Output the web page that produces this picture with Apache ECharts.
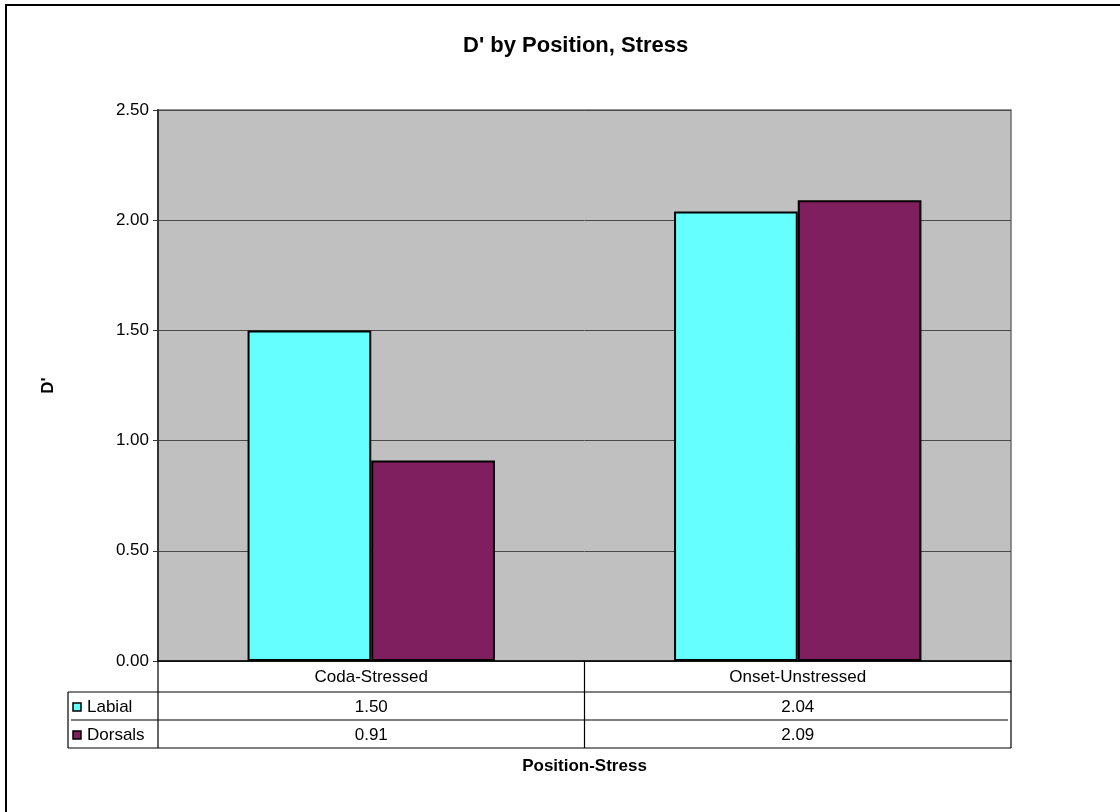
<!DOCTYPE html>
<html>
<head>
<meta charset="utf-8">
<script src="https://cdn.jsdelivr.net/npm/echarts@6/dist/echarts.min.js"></script>
<style>
html,body{margin:0;padding:0;background:#fff;}
#c{width:1120px;height:812px;}
</style>
</head>
<body>
<div id="c"></div>
<script>
var categories = ['Coda-Stressed', 'Onset-Unstressed'];
var seriesNames = ['Labial', 'Dorsals'];
var labial = [1.50, 2.04];
var dorsals = [0.91, 2.09];
var yMin = 0, yMax = 2.5, yStep = 0.5;

var colors = ['#66FFFF', '#7F1F5F'];
var FONT = 'Liberation Sans, Arial, sans-serif';
var G = {left: 158, top: 110, width: 853, height: 551};
var rowTop = [692, 720, 748];

var chart = echarts.init(document.getElementById('c'), null, {renderer: 'canvas'});

var option = {
  backgroundColor: '#fff',
  animation: false,
  title: {
    text: "D' by Position, Stress",
    left: 458,
    top: 30,
    textStyle: {fontFamily: FONT, fontSize: 22, fontWeight: 'bold', color: '#000'}
  },
  grid: {
    left: G.left, top: G.top, width: G.width, height: G.height,
    show: true, backgroundColor: '#C0C0C0', borderColor: '#707070', borderWidth: 1.5
  },
  xAxis: {
    type: 'category',
    data: categories,
    axisLine: {show: true, lineStyle: {color: '#000', width: 1.5}},
    axisTick: {show: false},
    axisLabel: {fontFamily: FONT, fontSize: 17, color: '#000', margin: 8},
    name: 'Position-Stress',
    nameLocation: 'middle',
    nameGap: 97,
    nameTextStyle: {fontFamily: FONT, fontSize: 17, fontWeight: 'bold', color: '#000'}
  },
  yAxis: {
    type: 'value',
    min: yMin, max: yMax, interval: yStep,
    axisLine: {show: true, lineStyle: {color: '#333', width: 2}},
    axisTick: {show: true, length: 5, lineStyle: {color: '#333', width: 1}},
    axisLabel: {fontFamily: FONT, fontSize: 17, color: '#000', margin: 9,
      formatter: function (v) { return v.toFixed(2); }},
    splitLine: {show: true, lineStyle: {color: '#4a4a4a', width: 1}},
    name: "D'",
    nameLocation: 'middle',
    nameGap: 101,
    nameRotate: 90,
    nameTextStyle: {fontFamily: FONT, fontSize: 17, fontWeight: 'bold', color: '#000'}
  },
  series: [
    {name: seriesNames[0], type: 'bar', data: labial, barWidth: '29%', barGap: '0%',
     itemStyle: {color: colors[0], borderColor: '#000', borderWidth: 2}},
    {name: seriesNames[1], type: 'bar', data: dorsals, barWidth: '29%', barGap: '0%',
     itemStyle: {color: colors[1], borderColor: '#000', borderWidth: 2}}
  ]
};
chart.setOption(option);

// Data table built from the arrays, placed using the chart's own scale
function buildTable() {
  var els = [];
  var x0 = chart.convertToPixel({gridIndex: 0}, [0, 0]);
  var zeroY = x0[1];
  var xl = G.left, xr = G.left + G.width;
  var bandW = G.width / categories.length;
  var lineStyle = {stroke: '#000', lineWidth: 1.2};
  for (var i = 0; i <= categories.length; i++) {
    var x = xl + bandW * i;
    els.push({type: 'line', shape: {x1: x, y1: zeroY, x2: x, y2: rowTop[2]}, style: lineStyle, z: 10});
  }
  els.push({type: 'line', shape: {x1: 68, y1: rowTop[0], x2: 68, y2: rowTop[2]}, style: lineStyle, z: 10});
  for (var r = 0; r < rowTop.length; r++) {
    var inset = (r === 1) ? 3 : 0;
    els.push({type: 'line', shape: {x1: 68 + inset, y1: rowTop[r], x2: xr - inset, y2: rowTop[r]}, style: lineStyle, z: 10});
  }
  var rows = [labial, dorsals];
  for (var s = 0; s < rows.length; s++) {
    var cy = (rowTop[s] + rowTop[s + 1]) / 2 + 1;
    els.push({type: 'rect', shape: {x: 73, y: cy - 4, width: 8, height: 8},
      style: {fill: colors[s], stroke: '#000', lineWidth: 1.5}, z: 10});
    els.push({type: 'text', x: 87, y: cy, style: {text: seriesNames[s], font: '17px ' + FONT,
      fill: '#000', textAlign: 'left', textVerticalAlign: 'middle'}, z: 10});
    for (var c = 0; c < categories.length; c++) {
      var px = chart.convertToPixel({xAxisIndex: 0}, categories[c]);
      els.push({type: 'text', x: px, y: cy, style: {text: rows[s][c].toFixed(2), font: '17px ' + FONT,
        fill: '#000', textAlign: 'center', textVerticalAlign: 'middle'}, z: 10});
    }
  }
  els.push({type: 'rect', shape: {x: 6, y: 5, width: 1200, height: 900},
    style: {fill: 'none', stroke: '#000', lineWidth: 2}, z: 20});
  chart.setOption({graphic: {elements: els}});
}
buildTable();
</script>
</body>
</html>
